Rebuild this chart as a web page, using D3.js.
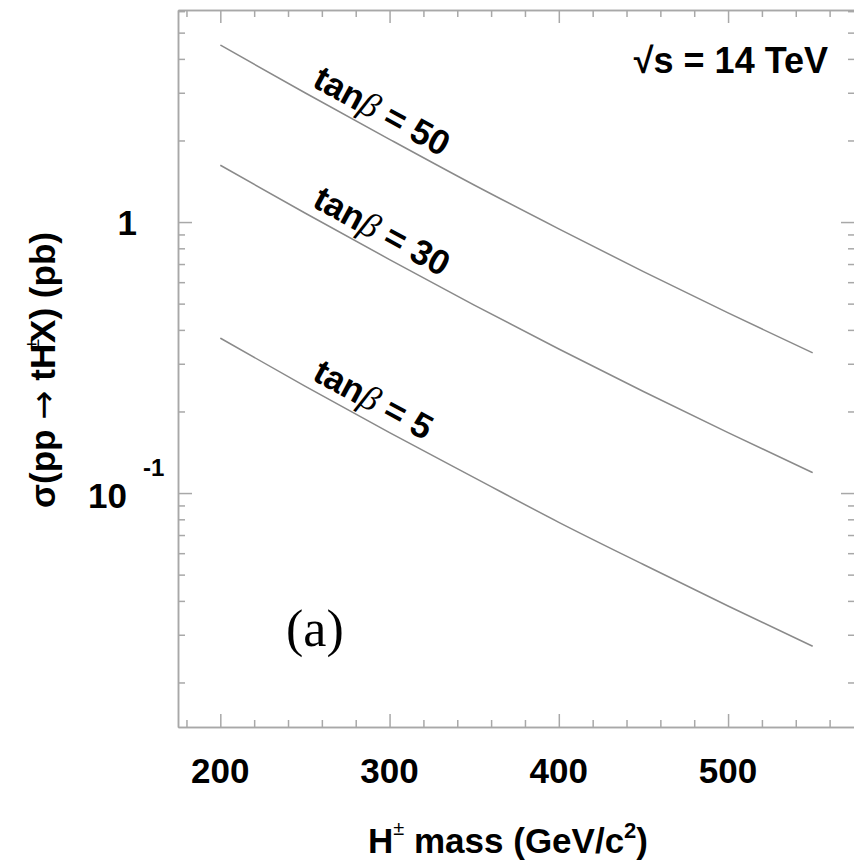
<!DOCTYPE html>
<html>
<head>
<meta charset="utf-8">
<script src="https://cdn.jsdelivr.net/npm/d3@7"></script>
<style>
    body { margin: 0; background: #fff; }
    svg { display: block; }
    .axis path, .axis line { stroke: #a8a8a8; stroke-width: 1.5; }
    .bold { font-family: "Liberation Sans", Arial, sans-serif; font-weight: bold; fill: #000; }
</style>
</head>
<body>
<svg id="chart" width="854" height="860"></svg>
<script>
// H+ mass (GeV/c^2) and cross sections sigma(pp -> tH+-X) in pb
const massPoints = [200, 250, 300, 350, 400, 450, 500, 550];
const xsecTan50 = [4.50, 3.00, 2.02, 1.37, 0.944, 0.656, 0.462, 0.329];
const xsecTan30 = [1.62, 1.08, 0.727, 0.494, 0.340, 0.237, 0.167, 0.119];
const xsecTan5 = [0.373, 0.248, 0.167, 0.114, 0.078, 0.0545, 0.0383, 0.0272];
const seriesNames = ["50", "30", "5"];

const xMajorTicks = [200, 300, 400, 500];
const xMinorTicks = [180, 220, 240, 260, 280, 320, 340, 360, 380, 420, 440, 460, 480, 520, 540, 560];
const yMajorTicks = [0.1, 1];
const yMinorTicks = [0.02, 0.03, 0.04, 0.05, 0.06, 0.07, 0.08, 0.09, 0.2, 0.3, 0.4, 0.5, 0.6, 0.7, 0.8, 0.9, 2, 3, 4, 5, 6];

document.addEventListener('DOMContentLoaded', function() {
    const svg = d3.select("#chart");

    const margin = { top: 10, left: 178 };
    const innerWidth = 677;
    const innerHeight = 717;

    const x = d3.scaleLinear().domain([175, 575]).range([0, innerWidth]);
    const y = d3.scaleLog().domain([0.0137, 6.06]).range([innerHeight, 0]);

    const g = svg.append("g").attr("transform", `translate(${margin.left},${margin.top})`);

    // frame with inward ticks on all four sides
    function addAxis(axisFn, ticks, size, transform) {
        g.append("g").attr("class", "axis").attr("transform", transform)
            .call(axisFn.tickValues(ticks).tickSize(-size).tickSizeOuter(0).tickFormat(""));
    }
    addAxis(d3.axisBottom(x), xMajorTicks, 13, `translate(0,${innerHeight})`);
    addAxis(d3.axisBottom(x), xMinorTicks, 7, `translate(0,${innerHeight})`);
    addAxis(d3.axisTop(x), xMajorTicks, 13, "translate(0,0)");
    addAxis(d3.axisTop(x), xMinorTicks, 7, "translate(0,0)");
    addAxis(d3.axisLeft(y), yMajorTicks, 14, "translate(0,0)");
    addAxis(d3.axisLeft(y), yMinorTicks, 7, "translate(0,0)");
    addAxis(d3.axisRight(y), yMajorTicks, 14, `translate(${innerWidth},0)`);
    addAxis(d3.axisRight(y), yMinorTicks, 7, `translate(${innerWidth},0)`);

    // x tick labels
    g.selectAll(".xlabel").data(xMajorTicks).enter().append("text")
        .attr("class", "bold xlabel")
        .attr("x", d => x(d))
        .attr("y", 773)
        .attr("text-anchor", "middle")
        .style("font-size", "35px")
        .text(d => d);

    // y tick labels
    g.append("text").attr("class", "bold")
        .attr("x", -41).attr("y", y(1) + 13)
        .attr("text-anchor", "end").style("font-size", "35px").text("1");
    g.append("text").attr("class", "bold")
        .attr("x", -51).attr("y", y(0.1) + 15)
        .attr("text-anchor", "end").style("font-size", "35px").text("10");
    g.append("text").attr("class", "bold")
        .attr("x", -35).attr("y", y(0.1) - 17)
        .attr("text-anchor", "start").style("font-size", "24px").text("-1");

    // curves
    const series = [xsecTan50, xsecTan30, xsecTan5].map((vals, i) => ({
        name: seriesNames[i],
        points: massPoints.map((m, j) => ({ m: m, v: vals[j] }))
    }));

    const line = d3.line().x(d => x(d.m)).y(d => y(d.v)).curve(d3.curveMonotoneX);

    g.selectAll(".curve").data(series).enter().append("path")
        .attr("class", "curve")
        .attr("d", d => line(d.points))
        .attr("fill", "none")
        .attr("stroke", "#8a8a8a")
        .attr("stroke-width", 1.5);

    // labels along curves
    series.forEach(s => {
        const p0 = s.points[1], p1 = s.points[3];
        const angle = Math.atan2(y(p1.v) - y(p0.v), x(p1.m) - x(p0.m)) * 180 / Math.PI;
        const px = x(p0.m), py = y(p0.v);
        const t = g.append("text").attr("class", "bold")
            .attr("transform", `translate(${px},${py}) rotate(${angle}) translate(2,-9)`)
            .style("font-size", "35px");
        t.append("tspan").text("tan");
        t.append("tspan").style("font-family", "'Liberation Serif', serif").style("font-style", "italic")
            .style("font-weight", "normal").text("β");
        t.append("tspan").text(" = " + s.name);
    });

    // sqrt(s) annotation
    svg.append("text").attr("class", "bold")
        .attr("x", 828).attr("y", 73)
        .attr("text-anchor", "end")
        .style("font-size", "36px")
        .text("√s = 14 TeV");

    // (a)
    svg.append("text")
        .attr("x", 286).attr("y", 646)
        .style("font-family", "'Liberation Serif', 'Times New Roman', serif")
        .style("font-size", "52px")
        .text("(a)");

    // x axis title
    const xt = svg.append("text").attr("class", "bold")
        .attr("x", 368).attr("y", 853)
        .style("font-size", "35px");
    xt.append("tspan").text("H");
    xt.append("tspan").attr("dy", -18).style("font-size", "20px").style("font-weight", "normal").text("±");
    xt.append("tspan").attr("dy", 18).text(" mass (GeV/c");
    xt.append("tspan").attr("dy", -15).style("font-size", "22px").text("2");
    xt.append("tspan").attr("dy", 15).text(")");

    // y axis title
    const yt = svg.append("text").attr("class", "bold")
        .attr("transform", "translate(55,370) rotate(-90)")
        .attr("text-anchor", "middle")
        .style("font-size", "35px");
    yt.append("tspan").text("σ(pp ");
    yt.append("tspan").style("font-family", "'DejaVu Sans', sans-serif").style("font-weight", "normal").text("→");
    yt.append("tspan").text(" tH");
    yt.append("tspan").attr("dy", -16).attr("dx", -6).style("font-size", "20px").style("font-weight", "normal").text("±");
    yt.append("tspan").attr("dy", 16).attr("dx", -4).text("X) (pb)");
});
</script>
</body>
</html>
